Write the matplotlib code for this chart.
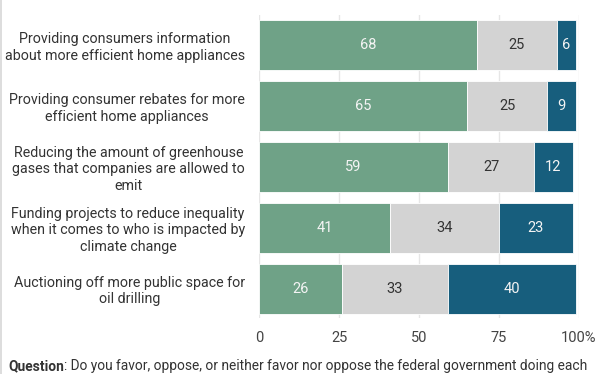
import matplotlib
matplotlib.use("Agg")
import matplotlib.pyplot as plt
from matplotlib.patches import Rectangle

plt.rcParams['font.family'] = ['Roboto', 'DejaVu Sans']

categories = [
    "Providing consumers information\nabout more efficient home appliances",
    "Providing consumer rebates for more\nefficient home appliances",
    "Reducing the amount of greenhouse\ngases that companies are allowed to\nemit",
    "Funding projects to reduce inequality\nwhen it comes to who is impacted by\nclimate change",
    "Auctioning off more public space for\noil drilling",
]
favor = [68, 65, 59, 41, 26]
neither = [25, 25, 27, 34, 33]
oppose = [6, 9, 12, 23, 40]
xticks = [0, 25, 50, 75, 100]
xticklabels = ["0", "25", "50", "75", "100%"]
question_bold = "Question"
question_rest = ": Do you favor, oppose, or neither favor nor oppose the federal government doing each"

colors = ["#6fa287", "#d3d3d3", "#175e7d"]
text_colors = ["#f4f4f4", "#333333", "#f4f4f4"]

fig = plt.figure(figsize=(6.12, 3.74), dpi=100)
ax = fig.add_axes([259/612, 1-318/374, (579-259)/612, (318-15)/374])

y = list(range(len(categories)))
series = [favor, neither, oppose]
lefts = [0]*len(categories)
for s, c, tc in zip(series, colors, text_colors):
    ax.barh(y, s, left=lefts, height=0.82, color=c, edgecolor="white", linewidth=0.6, zorder=3)
    for yi, (l, v) in enumerate(zip(lefts, s)):
        ax.text(l + v/2, yi, str(v), ha="center", va="center", color=tc, fontsize=10.5, zorder=4)
    lefts = [l + v for l, v in zip(lefts, s)]

ax.set_xlim(0, 100)
ax.set_ylim(4.48, -0.49)
ax.set_xticks(xticks)
ax.set_xticklabels(xticklabels, fontsize=10.5, color="#444444")
ax.set_yticks(y)
ax.set_yticklabels(categories, fontsize=10.3, color="#333333", multialignment="center")
ax.tick_params(axis="both", length=0)
ax.tick_params(axis="x", pad=9)
ax.tick_params(axis="y", pad=10)
ax.grid(axis="x", color="#e6e6e6", linewidth=1, zorder=0)
for sp in ax.spines.values():
    sp.set_visible(False)

# figure left border
fig.add_artist(Rectangle((0, 0), 1.5/612, 1, transform=fig.transFigure, color="#dddddd", lw=0))

fs_q = 9.9
t1 = fig.text(8/612, 1-366/374, question_bold, fontsize=fs_q, fontweight="bold", color="#333333", va="center")
fig.canvas.draw()
bb = t1.get_window_extent()
fig.text(bb.x1/612, 1-366/374, question_rest, fontsize=fs_q, color="#333333", va="center")

fig.savefig("out.png", dpi=100)
